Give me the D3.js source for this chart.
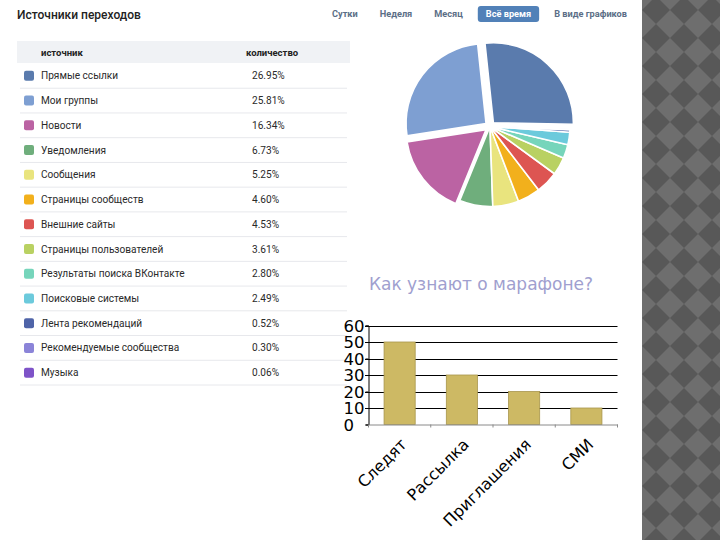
<!DOCTYPE html>
<html><head><meta charset="utf-8">
<script src="https://cdn.jsdelivr.net/npm/d3@7/dist/d3.min.js"></script>
<style>body{margin:0;background:#fff;} svg{display:block;}</style>
</head><body><svg id="c" width="720" height="540"></svg>
<script>
// ---- data ----
const tableTitle = "Источники переходов";
const periodTabs = ["Сутки", "Неделя", "Месяц", "Всё время", "В виде графиков"];
const activeTab = "Всё время";
const tableHeaders = ["источник", "количество"];
const sources = ["Прямые ссылки", "Мои группы", "Новости", "Уведомления", "Сообщения",
  "Страницы сообществ", "Внешние сайты", "Страницы пользователей",
  "Результаты поиска ВКонтакте", "Поисковые системы", "Лента рекомендаций",
  "Рекомендуемые сообщества", "Музыка"];
const shares = [26.95, 25.81, 16.34, 6.73, 5.25, 4.60, 4.53, 3.61, 2.80, 2.49, 0.52, 0.30, 0.06];
const sourceColors = ["#5a7bad", "#7e9fd2", "#bb63a3", "#6fae7c", "#e9e47e", "#f2b01c",
  "#dd5552", "#b9d162", "#76d5bb", "#6ccadc", "#4f64a8", "#8b84d8", "#7e53c8"];
const explodedSlices = ["Прямые ссылки", "Мои группы", "Новости"];

const barTitle = "Как узнают о марафоне?";
const barCategories = ["Следят", "Рассылка", "Приглашения", "СМИ"];
const barValues = [50, 30, 20, 10];
const yTickValues = [0, 10, 20, 30, 40, 50, 60];

// ---- drawing ----
const svg = d3.select("#c");
const vkFont = "Roboto, 'Liberation Sans', Arial, sans-serif";
const chFont = "'DejaVu Sans', Verdana, sans-serif";

// decorative strip
const defs = svg.append("defs");
const s = 19.8;
const pat = defs.append("pattern").attr("id", "diam")
  .attr("patternUnits", "userSpaceOnUse").attr("width", 2 * s).attr("height", 2 * s)
  .attr("patternTransform", "translate(656,-4) rotate(45)");
pat.append("rect").attr("width", 2 * s).attr("height", 2 * s).attr("fill", "#6e6e6e");
pat.append("rect").attr("width", s).attr("height", s).attr("fill", "#585858");
pat.append("rect").attr("x", s).attr("y", s).attr("width", s).attr("height", s).attr("fill", "#585858");
svg.append("rect").attr("x", 642).attr("y", 0).attr("width", 78).attr("height", 540).attr("fill", "url(#diam)");

// title
svg.append("text").attr("x", 17).attr("y", 18.5).text(tableTitle)
  .attr("font-family", vkFont).attr("font-size", 12).attr("font-weight", 500).attr("fill", "#222");

// tabs
let tx = 332;
const tabG = svg.append("g").attr("font-family", vkFont).attr("font-size", 9.2).attr("font-weight", "bold");
periodTabs.forEach(t => {
  const active = t === activeTab;
  if (active) tx -= 7;
  const g = tabG.append("g");
  const rect = active ? g.append("rect") : null;
  const txt = g.append("text").attr("x", active ? tx + 8 : tx).attr("y", 17.3).text(t)
    .attr("fill", active ? "#fff" : "#5b6e86");
  const w = txt.node().getComputedTextLength();
  if (active) {
    rect.attr("x", tx).attr("y", 6).attr("width", w + 16).attr("height", 16).attr("rx", 3).attr("fill", "#5181b8");
    tx += w + 16 + 15;
  } else {
    tx += w + 22;
  }
});

// table
const rowY = d3.scaleBand().domain(d3.range(sources.length)).range([63.5, 385]);
svg.append("rect").attr("x", 17).attr("y", 41).attr("width", 333).attr("height", 22).attr("fill", "#f0f2f5");
const hdr = svg.append("g").attr("font-family", vkFont).attr("font-size", 9.5).attr("font-weight", "bold").attr("fill", "#222");
hdr.append("text").attr("x", 41).attr("y", 56).text(tableHeaders[0]);
hdr.append("text").attr("x", 246).attr("y", 56).text(tableHeaders[1]);

const rows = svg.append("g").selectAll("g").data(sources).join("g")
  .attr("transform", (d, i) => `translate(0,${rowY(i)})`);
const bh = rowY.bandwidth();
rows.append("line").attr("x1", 20).attr("x2", 347).attr("y1", bh).attr("y2", bh)
  .attr("stroke", "#e7e8ec").attr("stroke-width", 1);
rows.append("rect").attr("x", 24).attr("y", bh / 2 - 5).attr("width", 10).attr("height", 10).attr("rx", 2)
  .attr("fill", (d, i) => sourceColors[i]);
rows.append("text").attr("x", 41).attr("y", bh / 2 + 3.6).text(d => d)
  .attr("font-family", vkFont).attr("font-size", 10.1).attr("fill", "#2a2a2a");
rows.append("text").attr("x", 252).attr("y", bh / 2 + 3.6).text((d, i) => shares[i].toFixed(2) + "%")
  .attr("font-family", vkFont).attr("font-size", 10.1).attr("fill", "#2a2a2a");

// pie
const a0 = 91 * Math.PI / 180;
const pie = d3.pie().sort(null).value(d => d).startAngle(a0).endAngle(a0 - 2 * Math.PI);
const arc = d3.arc().innerRadius(0).outerRadius(80);
const pieG = svg.append("g").attr("transform", "translate(490,126.5)");
pieG.selectAll("path").data(pie(shares)).join("path")
  .attr("d", arc)
  .attr("fill", (d, i) => sourceColors[i])
  .attr("stroke", "#fff").attr("stroke-width", 1.6).attr("stroke-linejoin", "round")
  .attr("transform", (d, i) => {
    if (!explodedSlices.includes(sources[i])) return null;
    const m = (d.startAngle + d.endAngle) / 2, off = 5;
    return `translate(${off * Math.sin(m)},${-off * Math.cos(m)})`;
  });

// bar chart
svg.append("text").attr("x", 481).attr("y", 290).attr("text-anchor", "middle").text(barTitle)
  .attr("font-family", chFont).attr("font-size", 17).attr("fill", "#a09fcf");

const x = d3.scaleBand().domain(barCategories).range([368.5, 617.5]).paddingInner(0.5).paddingOuter(0.25);
const y = d3.scaleLinear().domain([0, 60]).range([424.5, 325.5]);

const grid = svg.append("g");
grid.selectAll("line").data(yTickValues.filter(v => v > 0)).join("line")
  .attr("x1", 365).attr("x2", 617.5).attr("y1", d => Math.round(y(d)) + 0.5).attr("y2", d => Math.round(y(d)) + 0.5)
  .attr("stroke", "#000").attr("stroke-width", 1);

svg.append("g").selectAll("rect").data(barValues).join("rect")
  .attr("x", (d, i) => x(barCategories[i])).attr("width", x.bandwidth())
  .attr("y", d => y(d)).attr("height", d => y(0) - y(d))
  .attr("fill", "#cdb964").attr("stroke", "#a8964c").attr("stroke-width", 0.8);

// y axis
const yAxis = d3.axisLeft(y).tickValues(yTickValues).tickSize(3).tickFormat(d3.format("d"));
const ya = svg.append("g").attr("transform", "translate(368.5,0)").call(yAxis);
ya.select(".domain").attr("stroke", "#000");
ya.selectAll(".tick line").attr("stroke", "#000");
ya.selectAll(".tick text").attr("x", -25).attr("text-anchor", "start")
  .attr("font-family", chFont).attr("font-size", 16.5).attr("fill", "#000").attr("dy", "0.36em");

// x axis
const xAxis = d3.axisBottom(x).tickSize(0).tickSizeOuter(0);
const xa = svg.append("g").attr("transform", "translate(0,424.5)").call(xAxis);
xa.select(".domain").attr("stroke", "#8a8a8a");
const bounds = barCategories.map(c => x(c) - x.step() * x.paddingInner() / 2).concat([617.5]);
xa.selectAll(".bound").data(bounds).join("line").attr("class", "bound")
  .attr("x1", d => d).attr("x2", d => d).attr("y1", 0).attr("y2", 3).attr("stroke", "#8a8a8a");
xa.selectAll(".tick text")
  .attr("font-family", chFont).attr("font-size", 16).attr("fill", "#000")
  .attr("text-anchor", "end").attr("dy", null).attr("y", 0)
  .attr("transform", "translate(8,21) rotate(-45)");
</script></body></html>
